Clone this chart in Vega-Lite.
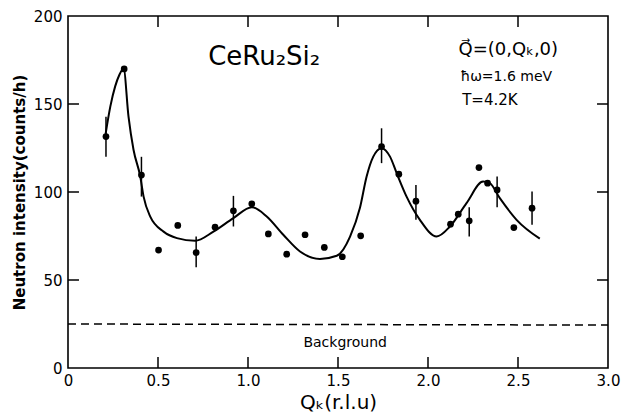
{
  "$schema": "https://vega.github.io/schema/vega-lite/v6.json",
  "width": 540,
  "height": 352,
  "autosize": {"type": "none"},
  "padding": {"left": 68, "top": 16, "right": 13, "bottom": 45},
  "background": "white",
  "config": {
    "view": {"stroke": "black", "strokeWidth": 1.6},
    "font": "DejaVu Sans",
    "text": {"font": "DejaVu Sans", "color": "black"}
  },
  "datasets": {
    "points": [
      {"q": 0.211, "counts": 131.5, "lo": 120, "hi": 142.8},
      {"q": 0.312, "counts": 169.9},
      {"q": 0.408, "counts": 109.6, "lo": 97.4, "hi": 120},
      {"q": 0.503, "counts": 67},
      {"q": 0.61, "counts": 81},
      {"q": 0.712, "counts": 65.6, "lo": 57.3, "hi": 74.7},
      {"q": 0.817, "counts": 80},
      {"q": 0.919, "counts": 89.3, "lo": 80.4, "hi": 97.8},
      {"q": 1.021, "counts": 93.3},
      {"q": 1.113, "counts": 76.2},
      {"q": 1.215, "counts": 64.7},
      {"q": 1.317, "counts": 75.7},
      {"q": 1.424, "counts": 68.5},
      {"q": 1.524, "counts": 63.2},
      {"q": 1.626, "counts": 75.1},
      {"q": 1.742, "counts": 125.8, "lo": 116.4, "hi": 136.2},
      {"q": 1.838, "counts": 110.1},
      {"q": 1.933, "counts": 94.8, "lo": 84.2, "hi": 104},
      {"q": 2.125, "counts": 81.7},
      {"q": 2.168, "counts": 87.4},
      {"q": 2.229, "counts": 83.6, "lo": 74.7, "hi": 91.4},
      {"q": 2.283, "counts": 113.9},
      {"q": 2.331, "counts": 105},
      {"q": 2.384, "counts": 101.2, "lo": 91.4, "hi": 108.8},
      {"q": 2.477, "counts": 79.8},
      {"q": 2.578, "counts": 90.8, "lo": 81.4, "hi": 100.3}
    ],
    "curve": [
      {"q": 0.209, "counts": 133},
      {"q": 0.235, "counts": 148.5},
      {"q": 0.262, "counts": 160},
      {"q": 0.285, "counts": 166.5},
      {"q": 0.309, "counts": 170},
      {"q": 0.336, "counts": 143},
      {"q": 0.364, "counts": 124},
      {"q": 0.401, "counts": 109},
      {"q": 0.42, "counts": 97.4},
      {"q": 0.457, "counts": 86},
      {"q": 0.531, "counts": 77.5},
      {"q": 0.605, "counts": 73.8},
      {"q": 0.706, "counts": 72.3},
      {"q": 0.808, "counts": 77.5},
      {"q": 0.919, "counts": 85.2},
      {"q": 1.021, "counts": 91.4},
      {"q": 1.104, "counts": 86.1},
      {"q": 1.196, "counts": 75.7},
      {"q": 1.289, "counts": 66.2},
      {"q": 1.4, "counts": 62.0},
      {"q": 1.493, "counts": 63.8},
      {"q": 1.567, "counts": 74.7},
      {"q": 1.622, "counts": 91},
      {"q": 1.659, "counts": 108.8},
      {"q": 1.696, "counts": 120.1},
      {"q": 1.742, "counts": 124.9},
      {"q": 1.789, "counts": 120.1},
      {"q": 1.826, "counts": 110.7},
      {"q": 1.881, "counts": 97.4},
      {"q": 1.955, "counts": 84.2},
      {"q": 2.048, "counts": 74.7},
      {"q": 2.122, "counts": 80.4},
      {"q": 2.214, "counts": 93.7},
      {"q": 2.306, "counts": 105.9},
      {"q": 2.343, "counts": 105},
      {"q": 2.399, "counts": 96.5},
      {"q": 2.492, "counts": 84.2},
      {"q": 2.621, "counts": 73.5}
    ],
    "bg": [
      {"q": 0, "counts": 25},
      {"q": 3, "counts": 24.4}
    ],
    "ticksX": [{"q": 0.5}, {"q": 1.0}, {"q": 1.5}, {"q": 2.0}, {"q": 2.5}],
    "ticksY": [{"counts": 50}, {"counts": 100}, {"counts": 150}],
    "one": [{}]
  },
  "layer": [
    {
      "data": {"name": "bg"},
      "mark": {"type": "line", "color": "black", "strokeWidth": 1.5, "strokeDash": [8, 5]},
      "encoding": {
        "x": {
          "field": "q", "type": "quantitative",
          "scale": {"domain": [0, 3], "nice": false, "zero": false},
          "axis": {
            "orient": "bottom", "values": [0, 0.5, 1, 1.5, 2, 2.5, 3],
            "labelExpr": "datum.value == 0 ? '0' : format(datum.value, '.1f')",
            "domain": false, "grid": false, "ticks": false,
            "labelPadding": 5, "labelFontSize": 15, "labelColor": "black", "labelFont": "DejaVu Sans",
            "labelFlush": false,
            "title": "Qₖ(r.l.u)", "titleFontSize": 20, "titleFontWeight": "normal", "titleColor": "black",
            "titleFont": "DejaVu Sans", "titlePadding": 4
          }
        },
        "y": {
          "field": "counts", "type": "quantitative",
          "scale": {"domain": [0, 200], "nice": false},
          "axis": {
            "orient": "left", "values": [0, 50, 100, 150, 200],
            "domain": false, "grid": false, "ticks": false,
            "labelPadding": 6, "labelFontSize": 15, "labelColor": "black", "labelFont": "DejaVu Sans",
            "labelFlush": false,
            "title": "Neutron intensity(counts/h)", "titleFontSize": 15, "titleFontWeight": "bold",
            "titleColor": "black", "titleFont": "DejaVu Sans", "titlePadding": 6
          }
        }
      }
    },
    {
      "data": {"name": "ticksX"},
      "mark": {"type": "rule", "color": "black", "strokeWidth": 1.5},
      "encoding": {
        "x": {"field": "q", "type": "quantitative"},
        "y": {"datum": 0, "type": "quantitative"},
        "y2": {"datum": 6.25}
      }
    },
    {
      "data": {"name": "ticksX"},
      "mark": {"type": "rule", "color": "black", "strokeWidth": 1.5},
      "encoding": {
        "x": {"field": "q", "type": "quantitative"},
        "y": {"datum": 193.75, "type": "quantitative"},
        "y2": {"datum": 200}
      }
    },
    {
      "data": {"name": "ticksY"},
      "mark": {"type": "rule", "color": "black", "strokeWidth": 1.5},
      "encoding": {
        "y": {"field": "counts", "type": "quantitative"},
        "x": {"datum": 0, "type": "quantitative"},
        "x2": {"datum": 0.061}
      }
    },
    {
      "data": {"name": "ticksY"},
      "mark": {"type": "rule", "color": "black", "strokeWidth": 1.5},
      "encoding": {
        "y": {"field": "counts", "type": "quantitative"},
        "x": {"datum": 2.939, "type": "quantitative"},
        "x2": {"datum": 3}
      }
    },
    {
      "data": {"name": "points"},
      "mark": {"type": "rule", "color": "black", "strokeWidth": 1.5},
      "encoding": {
        "x": {"field": "q", "type": "quantitative"},
        "y": {"field": "lo", "type": "quantitative"},
        "y2": {"field": "hi"}
      }
    },
    {
      "data": {"name": "curve"},
      "mark": {"type": "line", "color": "black", "strokeWidth": 2, "interpolate": "monotone"},
      "encoding": {
        "x": {"field": "q", "type": "quantitative"},
        "y": {"field": "counts", "type": "quantitative"}
      }
    },
    {
      "data": {"name": "points"},
      "mark": {"type": "point", "filled": true, "color": "black", "opacity": 1, "size": 45},
      "encoding": {
        "x": {"field": "q", "type": "quantitative"},
        "y": {"field": "counts", "type": "quantitative"}
      }
    },
    {
      "data": {"name": "one"},
      "mark": {"type": "text", "text": "CeRu₂Si₂", "fontSize": 26, "align": "center", "baseline": "middle"},
      "encoding": {
        "x": {"datum": 1.09, "type": "quantitative"},
        "y": {"datum": 176.5, "type": "quantitative"}
      }
    },
    {
      "data": {"name": "one"},
      "mark": {"type": "text", "text": "Q⃗=(0,Qₖ,0)", "fontSize": 18, "align": "left", "baseline": "middle"},
      "encoding": {
        "x": {"datum": 2.17, "type": "quantitative"},
        "y": {"datum": 180.5, "type": "quantitative"}
      }
    },
    {
      "data": {"name": "one"},
      "mark": {"type": "text", "text": "ħω=1.6 meV", "fontSize": 14, "align": "left", "baseline": "middle"},
      "encoding": {
        "x": {"datum": 2.18, "type": "quantitative"},
        "y": {"datum": 165.5, "type": "quantitative"}
      }
    },
    {
      "data": {"name": "one"},
      "mark": {"type": "text", "text": "T=4.2K", "fontSize": 15, "align": "left", "baseline": "middle"},
      "encoding": {
        "x": {"datum": 2.19, "type": "quantitative"},
        "y": {"datum": 152.3, "type": "quantitative"}
      }
    },
    {
      "data": {"name": "one"},
      "mark": {"type": "text", "text": "Background", "fontSize": 14, "align": "center", "baseline": "middle"},
      "encoding": {
        "x": {"datum": 1.54, "type": "quantitative"},
        "y": {"datum": 14.2, "type": "quantitative"}
      }
    }
  ]
}
